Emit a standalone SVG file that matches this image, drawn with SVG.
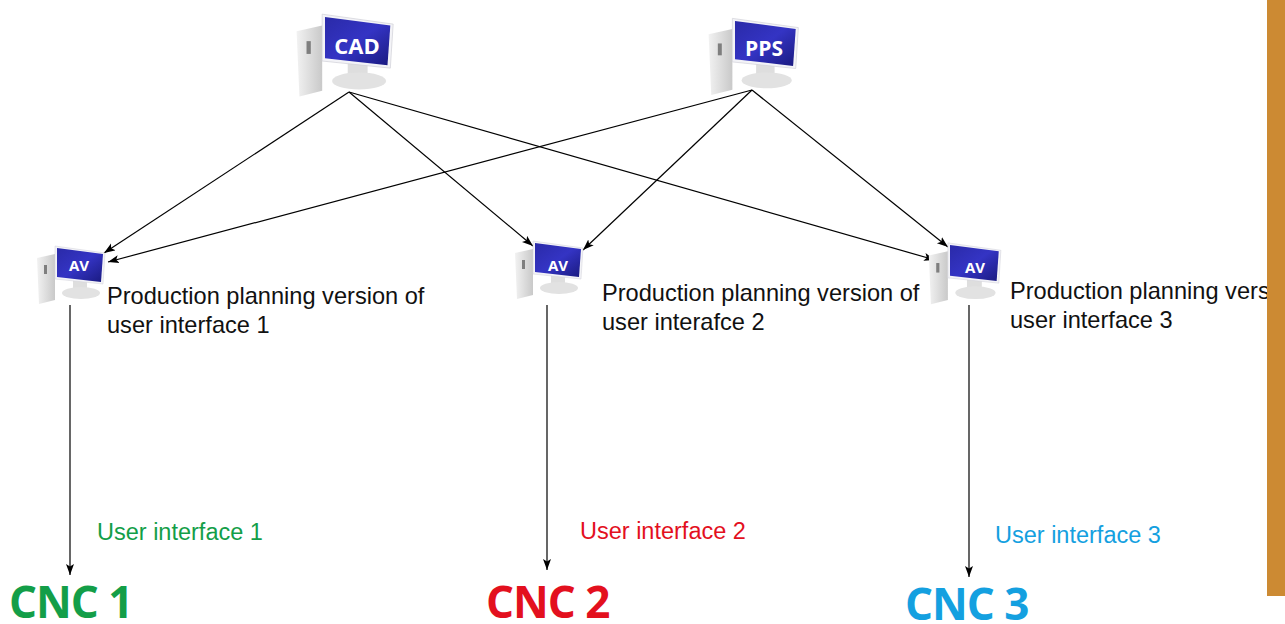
<svg xmlns="http://www.w3.org/2000/svg" width="1285" height="624" viewBox="0 0 1285 624">
  <style>
    .lbl { font-family: "Liberation Sans", Arial, sans-serif; font-size: 23.6px; fill: #111; }
    .ui { font-family: "Liberation Sans", Arial, sans-serif; font-size: 23.5px; }
    .cnc { font-family: "Open Sans", "DejaVu Sans", sans-serif; font-weight: 700; font-size: 44px; letter-spacing: -1px; }
    .scr { font-family: "Open Sans", "DejaVu Sans", sans-serif; font-weight: 700; fill: #fff; text-anchor: middle; }
    .conn { stroke: #000; stroke-width: 1.2; fill: none; marker-end: url(#ah); }
  </style>
  <defs>
    <marker id="ah" markerUnits="userSpaceOnUse" markerWidth="12" markerHeight="10" refX="11" refY="4.5" orient="auto">
      <path d="M0,0.5 L11,4.5 L0,8.5 L2.5,4.5 z" fill="#000"/>
    </marker>
    <linearGradient id="blue" x1="0" y1="0" x2="1" y2="1">
      <stop offset="0" stop-color="#2a2aa8"/>
      <stop offset="0.5" stop-color="#3434c4"/>
      <stop offset="1" stop-color="#1a1a80"/>
    </linearGradient>
    <linearGradient id="gray" x1="0" y1="0" x2="1" y2="0">
      <stop offset="0" stop-color="#f2f2f2"/>
      <stop offset="1" stop-color="#c9c9c9"/>
    </linearGradient>
    <g id="pc">
      <polygon points="-20,10 -2,6 -2,52 -18,56" fill="url(#gray)"/>
      <rect x="-13" y="17" width="3" height="9" fill="#555" opacity="0.7"/>
      <rect x="16" y="30" width="14" height="12" fill="#dedede"/>
      <ellipse cx="24" cy="45" rx="19" ry="6" fill="#e2e2e2"/>
      <polygon points="-2,-2 48,5 46,36 -2,31" fill="#f3f3f7" stroke="#d0d0d8" stroke-width="0.5"/>
      <polygon points="0,0 46,6 44,34 0,29" fill="url(#blue)"/>
    </g>
  </defs>

  <g id="connectors">
    <line class="conn" x1="349" y1="92" x2="104" y2="253"/>
    <line class="conn" x1="349" y1="92" x2="533" y2="246"/>
    <line class="conn" x1="349" y1="92" x2="935" y2="260"/>
    <line class="conn" x1="752" y1="90" x2="108" y2="262"/>
    <line class="conn" x1="752" y1="90" x2="583" y2="250"/>
    <line class="conn" x1="752" y1="90" x2="948" y2="247"/>
    <line class="conn" x1="70" y1="305" x2="70" y2="575"/>
    <line class="conn" x1="547" y1="305" x2="547" y2="570"/>
    <line class="conn" x1="969" y1="305" x2="969" y2="577"/>
  </g>

  <g id="cad">
    <use href="#pc" transform="translate(325,17) scale(1.42)"/>
    <text class="scr" x="357" y="54" font-size="22">CAD</text>
  </g>
  <g id="pps">
    <use href="#pc" transform="translate(735,21) scale(1.32)"/>
    <text class="scr" x="764" y="56" font-size="21">PPS</text>
  </g>

  <g id="av1">
    <use href="#pc" transform="translate(57,248)"/>
    <text class="scr" x="79" y="271" font-size="15">AV</text>
    <text class="lbl" x="107" y="304">Production planning version of</text>
    <text class="lbl" x="107" y="333">user interface 1</text>
  </g>
  <g id="av2">
    <use href="#pc" transform="translate(535,243)"/>
    <text class="scr" x="558" y="271" font-size="15">AV</text>
    <text class="lbl" x="602" y="301">Production planning version of</text>
    <text class="lbl" x="602" y="330">user interafce 2</text>
  </g>
  <g id="av3">
    <use href="#pc" transform="translate(950,245) scale(1.06)"/>
    <text class="scr" x="975" y="273" font-size="15">AV</text>
    <text class="lbl" x="1010" y="299">Production planning version of</text>
    <text class="lbl" x="1010" y="328">user interface 3</text>
  </g>

  <g id="cnc1">
    <text class="ui" x="97" y="540" fill="#139e48">User interface 1</text>
    <text class="cnc" x="9" y="618" fill="#139e48">CNC 1</text>
  </g>
  <g id="cnc2">
    <text class="ui" x="580" y="539" fill="#e3101e">User interface 2</text>
    <text class="cnc" x="486" y="618" fill="#e3101e">CNC 2</text>
  </g>
  <g id="cnc3">
    <text class="ui" x="995" y="543" fill="#14a0e0">User interface 3</text>
    <text class="cnc" x="905" y="620" fill="#14a0e0">CNC 3</text>
  </g>

  <rect id="bar" x="1267" y="0" width="18" height="596" fill="#cc8a33"/>
</svg>
